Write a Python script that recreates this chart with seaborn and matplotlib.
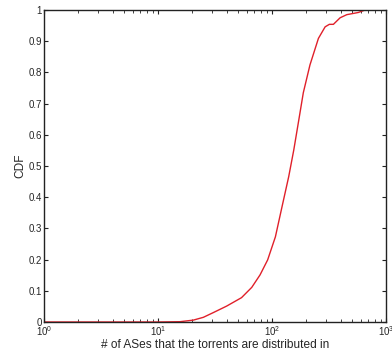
import numpy as np
import pandas as pd
import seaborn as sns
import matplotlib
matplotlib.use("Agg")
import matplotlib.pyplot as plt
from matplotlib.ticker import LogLocator, NullFormatter

num_ases = [1, 10, 15.6, 20.4, 25, 30.5, 40, 54, 66.4, 78.5, 91.5, 107, 122.4, 140,
            155, 171.5, 188, 215, 255, 292, 318, 345, 395, 452, 571, 655, 1000]
cdf = [0, 0, 0.001, 0.006, 0.015, 0.03, 0.051, 0.078, 0.111, 0.151, 0.199, 0.273, 0.37, 0.466,
       0.551, 0.647, 0.735, 0.824, 0.909, 0.946, 0.954, 0.954, 0.975, 0.985, 0.992, 1.0, 1.0]
y_ticks = [0, 0.1, 0.2, 0.3, 0.4, 0.5, 0.6, 0.7, 0.8, 0.9, 1]
y_ticklabels = ["0", "0.1", "0.2", "0.3", "0.4", "0.5", "0.6", "0.7", "0.8", "0.9", "1"]

sns.set_style("ticks")
plt.rcParams["font.family"] = ["Liberation Sans", "DejaVu Sans"]
plt.rcParams["mathtext.fontset"] = "custom"
plt.rcParams["mathtext.rm"] = "Liberation Sans"
plt.rcParams["mathtext.it"] = "Liberation Sans"

df = pd.DataFrame({"x": num_ases, "y": cdf})

fig = plt.figure(figsize=(3.92, 3.54), dpi=100)
ax = fig.add_axes([0.112, 0.0904, 0.873, 0.8814])
sns.lineplot(data=df, x="x", y="y", ax=ax, color="#e0202a", linewidth=1.0)
ax.set_xscale("log")
ax.set_xlim(1, 1000)
ax.set_ylim(0, 1)
ax.set_yticks(y_ticks)
ax.set_yticklabels(y_ticklabels)
ax.xaxis.set_minor_locator(LogLocator(base=10, subs=np.arange(2, 10)))
ax.xaxis.set_minor_formatter(NullFormatter())
ax.tick_params(which="both", direction="in", top=True, right=True, labelsize=7, pad=1.5, color="#222222")
ax.tick_params(which="major", length=3, width=0.8)
ax.tick_params(which="minor", length=2, width=0.6)
for s in ax.spines.values():
    s.set_linewidth(1.0)
    s.set_color("#222222")
ax.set_xlabel("# of ASes that the torrents are distributed in", fontsize=8.6, labelpad=0.5)
ax.set_ylabel("CDF", fontsize=8.6, labelpad=1.5)
fig.savefig("out.png", dpi=100)
